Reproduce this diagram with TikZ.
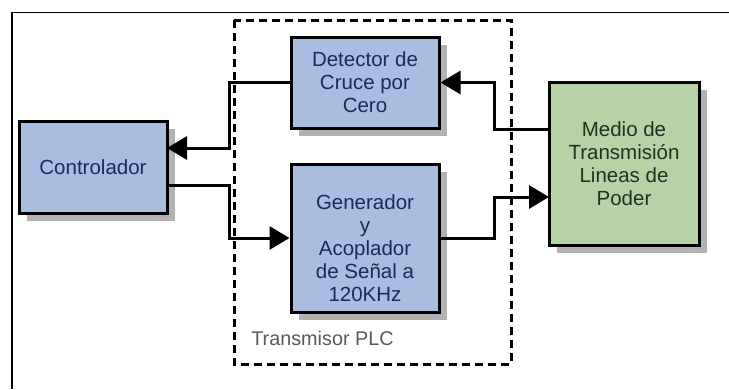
\documentclass[tikz,border=0pt]{standalone}
\usepackage{fontspec}
\setmainfont{Liberation Sans}
\usetikzlibrary{positioning}
\usetikzlibrary{arrows.meta}
\usetikzlibrary{shadows}
\definecolor{blockblue}{HTML}{A9BDE0}
\definecolor{blockgreen}{HTML}{B6D3A5}
\definecolor{inkblue}{HTML}{1F2A55}
\definecolor{inkgreen}{HTML}{1E3320}
\tikzset{
  block/.style={draw=black, line width=3pt, fill=blockblue, text=inkblue, align=center,
    font=\fontsize{20.5}{23}\selectfont, inner sep=0pt,
    drop shadow={shadow xshift=8pt, shadow yshift=-8pt, fill=black!30, opacity=1}},
  link/.style={draw=black, line width=3pt},
  arrowlink/.style={link, -{Triangle[length=20pt,width=23pt]}},
}
\begin{document}
\begin{tikzpicture}[x=1pt,y=-1pt]
\useasboundingbox (0,0) rectangle (729,389);
\draw[line width=1.5pt] (729,12.5) -- (12,12.5) -- (12,389);
\draw[line width=3pt, dash pattern=on 8pt off 5pt] (234,20) rectangle (511,364);
\node [block, minimum width=148pt, minimum height=92pt] (ctrl) at (93,167) {Controlador};
\node [block, minimum width=148pt, minimum height=91pt] (detector) at (365,82.5) {Detector de\\Cruce por\\Cero};
\node [block, minimum width=148pt, minimum height=148pt] (gen) at (365,238) {\mbox{}\\[12pt]Generador\\y\\Acoplador\\de Señal a\\120KHz};
\node [block, fill=blockgreen, text=inkgreen, minimum width=150pt, minimum height=163pt] (medio) at (624,163.5) {Medio de\\Transmisión\\Lineas de\\Poder};
\node [text=black!65, font=\fontsize{19.8}{23}\selectfont] (plc) at (322.5,338) {Transmisor PLC};
% puntos de paso
\coordinate (ctrlin) at (167,148);
\coordinate (ctrlout) at (167,185);
\coordinate (medioout) at (549,129);
\coordinate (medioin) at (549,197);
\coordinate (busa) at (229,115);
\coordinate (busb) at (229,210);
\coordinate (busc) at (494,105);
\coordinate (busd) at (494,218);
\draw[arrowlink] (detector.west) -| (busa) |- (ctrlin);
\draw[arrowlink] (ctrlout) -| (busb) |- (gen.west);
\draw[arrowlink] (medioout) -| (busc) |- (detector.east);
\draw[arrowlink] (gen.east) -| (busd) |- (medioin);
\end{tikzpicture}
\end{document}
